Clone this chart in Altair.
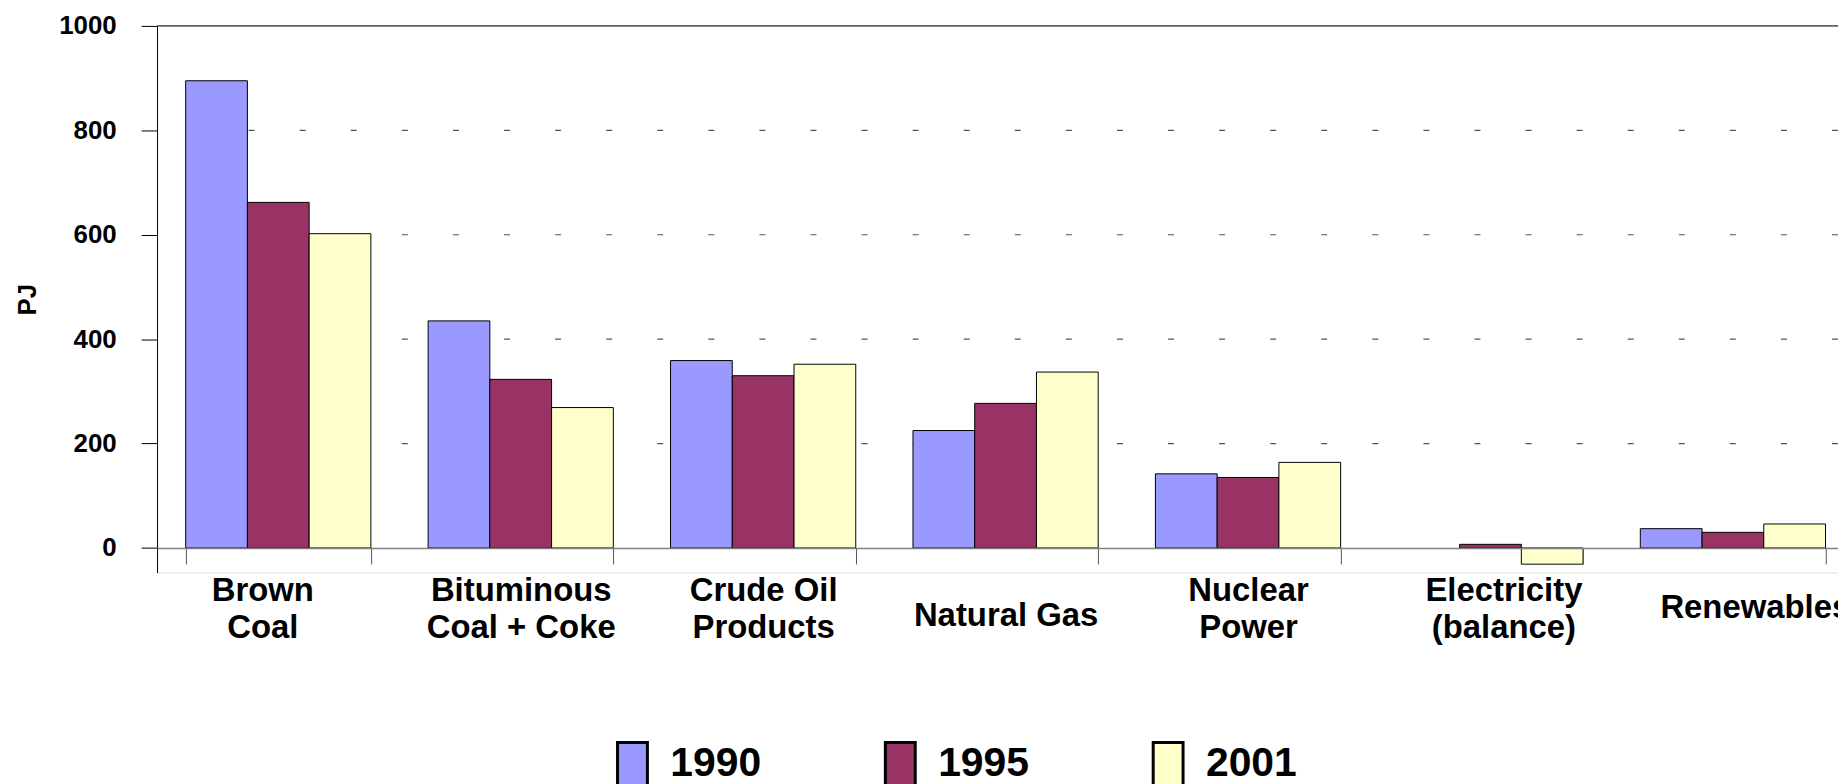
import altair as alt
import pandas as pd

categories = ["Brown Coal", "Bituminous Coal + Coke", "Crude Oil Products",
              "Natural Gas", "Nuclear Power", "Electricity (balance)", "Renewables"]
label_lines = [["Brown", "Coal"], ["Bituminous", "Coal + Coke"], ["Crude Oil", "Products"],
               ["Natural Gas"], ["Nuclear", "Power"], ["Electricity", "(balance)"], ["Renewables"]]
years = ["1990", "1995", "2001"]
values_1990 = [895, 435, 359, 225, 142, 0, 37]
values_1995 = [662, 323, 330, 277, 135, 7, 30]
values_2001 = [602, 269, 352, 337, 164, -31, 46]
colors = ["#9999FF", "#993366", "#FFFFCC"]
y_ticks = [0, 200, 400, 600, 800, 1000]
grid_values = [200, 400, 600, 800]
top_value = [1000]
y_min = -47

rows = []
for year, vals in zip(years, [values_1990, values_1995, values_2001]):
    for c, v in zip(categories, vals):
        rows.append({"category": c, "year": year, "value": v})
df = pd.DataFrame(rows)

W = 1688.3
H = 549
x_range_end = 1704.5
x_axis_offset = -H * (-y_min) / (1000 - y_min)

cats_js = "[" + ",".join("'" + c + "'" for c in categories) + "]"
lines_js = "[" + ",".join("[" + ",".join("'" + l + "'" for l in ls) + "]" for ls in label_lines) + "]"
label_expr = f"{lines_js}[indexof({cats_js}, datum.label)]"

FONT = "Liberation Sans"

y_enc = alt.Y(
    "value:Q",
    scale=alt.Scale(domain=[y_min, 1000], nice=False, zero=False),
    axis=alt.Axis(
        values=y_ticks, format="d", title="PJ", grid=False,
        labelFont=FONT, labelFontSize=26, labelFontWeight="bold", labelColor="black",
        labelPadding=25, tickSize=16, tickColor="black", domainColor="black",
        titleFont=FONT, titleFontSize=26, titleFontWeight="bold", titleColor="black",
        titlePadding=18,
    ),
)

grid = alt.Chart(pd.DataFrame({"value": grid_values})).mark_rule(
    color="#555555", strokeDash=[6, 45.3], strokeWidth=1.2
).encode(y=y_enc)

top = alt.Chart(pd.DataFrame({"value": top_value})).mark_rule(
    color="#333333", strokeWidth=1.2
).encode(y=y_enc)

label_padding = {
    "condition": [
        {"test": "datum.value == 'Natural Gas'", "value": 52},
        {"test": "datum.value == 'Renewables'", "value": 44},
    ],
    "value": 27,
}
label_offset = {
    "condition": [
        {"test": "datum.value == 'Brown Coal'", "value": -16},
        {"test": "datum.value == 'Electricity (balance)'", "value": 13},
        {"test": "datum.value == 'Renewables'", "value": 22},
    ],
    "value": 0,
}

bars = alt.Chart(df).mark_bar(stroke="black", strokeWidth=1).encode(
    x=alt.X(
        "category:N", sort=categories,
        scale=alt.Scale(range=[0, x_range_end], paddingInner=0.236, paddingOuter=0.118),
        axis=alt.Axis(
            title=None, labelExpr=label_expr, labelAngle=0, labelFont=FONT,
            labelFontSize=33, labelFontWeight="bold", labelColor="black",
            labelLineHeight=37, labelBaseline="middle", labelLimit=400,
            labelOverlap=False, labelPadding=label_padding, labelOffset=label_offset,
            tickBand="extent", tickSize=16,
            tickColor="#555555", domainColor="#808080", domainWidth=1.5,
            offset=x_axis_offset, zindex=1,
        ),
    ),
    xOffset=alt.XOffset("year:N", sort=years, scale=alt.Scale(paddingInner=0, paddingOuter=0)),
    y=y_enc,
    strokeOpacity=alt.condition("datum.value == 0", alt.value(0), alt.value(1)),
    color=alt.Color(
        "year:N",
        scale=alt.Scale(domain=years, range=colors),
        legend=alt.Legend(
            title=None, orient="none", legendX=454, legendY=718, direction="horizontal",
            symbolType="M-0.682,-1H0.682V1H-0.682Z", symbolSize=1936,
            symbolStrokeColor="black", symbolStrokeWidth=3,
            labelFont=FONT, labelFontWeight="bold", labelFontSize=41,
            labelColor="black", labelOffset=14.5, columnPadding=116, labelLimit=300,
        ),
    ),
)

chart = alt.layer(grid, top, bars).properties(
    width=W, height=H,
    padding={"left": 149.7, "top": 16.3, "right": 0, "bottom": 210.7},
    autosize=alt.AutoSizeParams(type="none"),
).configure_view(stroke=None).configure(background="white")

chart.save("out.html", embed_options={"renderer": "svg", "actions": False})
